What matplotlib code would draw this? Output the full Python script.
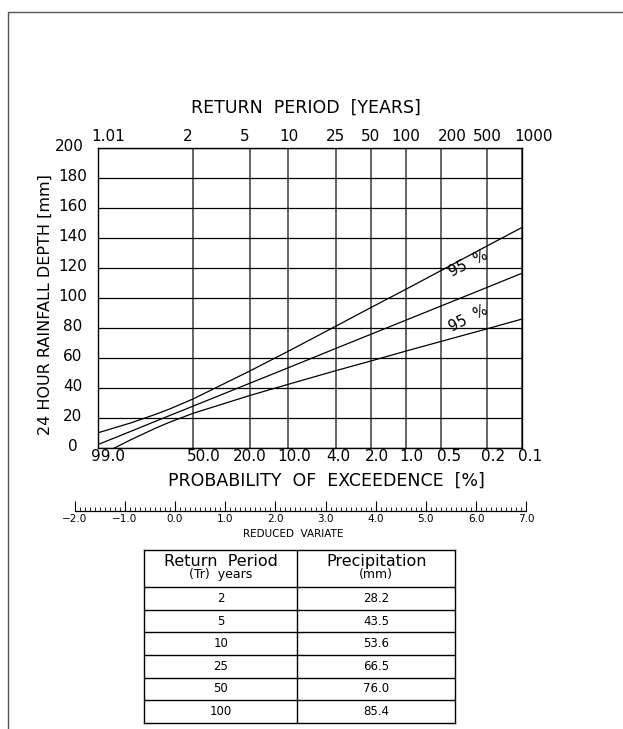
import numpy as np
import matplotlib
matplotlib.use("Agg")
import matplotlib.pyplot as plt
from matplotlib.lines import Line2D
from matplotlib.ticker import MultipleLocator, FuncFormatter
from matplotlib.transforms import blended_transform_factory, ScaledTranslation

# return periods of the grid, with the labels printed along the top and bottom
grid_T = [1.01, 2, 5, 10, 25, 50, 100, 200, 500, 1000]
return_labels = ["1.01", "2", "5", "10", "25", "50", "100", "200", "500", "1000"]
exceed_labels = ["99.0", "50.0", "20.0", "10.0", "4.0", "2.0", "1.0", "0.5", "0.2", "0.1"]
depth_ticks = [0, 20, 40, 60, 80, 100, 120, 140, 160, 180, 200]

# curves (return period -> 24 h depth, mm)
curve_T = [1.01, 1.1, 1.3, 1.5, 2, 5, 10, 25, 50, 100, 200, 500, 1000]
fit_depth = [2.6, 11.4, 18.1, 22.0, 28.2, 43.5, 53.6, 66.5, 76.0, 85.4, 94.8, 107.2, 116.6]
upper_95 = [10.4, 17.0, 22.7, 26.4, 33.0, 51.7, 64.6, 81.3, 93.8, 106.0, 118.4, 134.8, 147.1]
lower_95 = [-5.2, 5.8, 13.5, 17.6, 23.4, 35.3, 42.6, 51.7, 58.2, 64.8, 71.2, 79.6, 86.1]

# table under the chart
table_T = [2, 5, 10, 25, 50, 100]
table_precip = [28.2, 43.5, 53.6, 66.5, 76.0, 85.4]


def gumbel_fwd(T):
    T = np.asarray(T, dtype=float)
    with np.errstate(all="ignore"):
        return -np.log(-np.log(1.0 - 1.0 / T))


def gumbel_inv(y):
    y = np.asarray(y, dtype=float)
    with np.errstate(all="ignore"):
        return 1.0 / (1.0 - np.exp(-np.exp(-y)))


W, H = 623, 729


def px_rect(left, top, right, bottom):
    return [left / W, 1 - bottom / H, (right - left) / W, (bottom - top) / H]


def px_off(dx, dy):
    return ScaledTranslation(dx / 100, dy / 100, fig.dpi_scale_trans)


plt.rcParams["font.family"] = ["DejaVu Sans"]
fig = plt.figure(figsize=(6.23, 7.29), dpi=100)

# drawing frame
fig.add_artist(Line2D([8.3 / W, 8.3 / W, 1.0], [0.0, 1 - 11.7 / H, 1 - 11.7 / H],
                      transform=fig.transFigure, color="#555555", lw=1.0))

ax_left, ax_top, ax_right, ax_bottom = 98.3, 148.3, 521.6, 448.3
ax = fig.add_axes(px_rect(ax_left, ax_top, ax_right, ax_bottom))
ax.set_xscale("function", functions=(gumbel_fwd, gumbel_inv))

for ys in (upper_95, fit_depth, lower_95):
    ax.plot(curve_T, ys, color="black", lw=0.9, solid_capstyle="butt")

ax.set_xlim(grid_T[0], grid_T[-1])
ax.set_ylim(depth_ticks[0], depth_ticks[-1])
ax.set_xticks(grid_T)
ax.set_xticks([], minor=True)
ax.set_yticks(depth_ticks)
ax.tick_params(length=0, labelbottom=False, labelleft=False)
ax.grid(axis="x", color="#3a3a3a", lw=1.1)
ax.grid(axis="y", color="black", lw=0.9)
for sp in ax.spines.values():
    sp.set_linewidth(1.0)

# tick labels as text so each one can sit where the drawing has it
top_dx = [10, -6, -6, 1, 0, 0, 0, 12, 1, 12]
bot_dx = [10, 10, -1, 6, 3, 6, 6, 8, 6, 8]
xt = blended_transform_factory(ax.transData, ax.transAxes)
for T, lab, dx in zip(grid_T, return_labels, top_dx):
    ax.text(T, 1, lab, transform=xt + px_off(dx, 11.6), ha="center", va="center",
            fontsize=11)
for T, lab, dx in zip(grid_T, exceed_labels, bot_dx):
    ax.text(T, 0, lab, transform=xt + px_off(dx, -8.2), ha="center", va="center",
            fontsize=11)

yt = blended_transform_factory(ax.transAxes, ax.transData)
for v in depth_ticks:
    dx = -25.3
    if v == depth_ticks[-1]:
        dx = -29
    ax.text(0, v, str(v), transform=yt + px_off(dx, 1.5), ha="center", va="center",
            fontsize=11)

ax.text(0.4895, 1.1367, "RETURN  PERIOD  [YEARS]", transform=ax.transAxes,
        ha="center", va="center", fontsize=12.5)
ax.text(0.5396, -0.108, "PROBABILITY  OF  EXCEEDENCE  [%]", transform=ax.transAxes,
        ha="center", va="center", fontsize=12.5)
ax.text(-0.1259, 0.4777, "24 HOUR RAINFALL DEPTH [mm]", transform=ax.transAxes,
        ha="center", va="center", rotation=90, fontsize=11.5)

ax.text(344, 122.9, "95  %", rotation=27, ha="center", va="center", fontsize=10.5,
        rotation_mode="anchor")
ax.text(344, 86.7, "95  %", rotation=27, ha="center", va="center", fontsize=10.5,
        rotation_mode="anchor")

# reduced variate ruler, lined up with the chart's x axis
rv_lo, rv_hi = float(gumbel_fwd(grid_T[0])), float(gumbel_fwd(grid_T[-1]))
ppu = (ax_right - ax_left) / (rv_hi - rv_lo)
r_left = ax_left + (-2 - rv_lo) * ppu
r_right = ax_left + (7 - rv_lo) * ppu
ruler = fig.add_axes(px_rect(r_left, 501, r_right, 511))
ruler.set_xlim(-2, 7)
ruler.set_ylim(0, 1)
for side in ("top", "left", "right"):
    ruler.spines[side].set_visible(False)
ruler.spines["bottom"].set_linewidth(0.9)
ruler.set_yticks([])
ruler.patch.set_alpha(0)
ruler.xaxis.set_major_locator(MultipleLocator(1))
ruler.xaxis.set_minor_locator(MultipleLocator(0.1))
ruler.xaxis.set_major_formatter(FuncFormatter(lambda v, p: f"{v:.1f}".replace("-", "\u2212")))
ruler.tick_params(which="major", direction="in", length=7.2, width=0.8, labelsize=7.5, pad=2.5)
ruler.tick_params(which="minor", direction="in", length=3.1, width=0.6)
fig.text(293 / W, 1 - 534 / H, "REDUCED  VARIATE", ha="center", va="center", fontsize=7.5)

# table
t_left, t_top, t_right, t_bottom = 144, 550, 455, 722.7
head_h = 37.3
row_h = (t_bottom - t_top - head_h) / len(table_T)
tab = fig.add_axes(px_rect(t_left, t_top, t_right, t_bottom))
tab.set_xlim(0, t_right - t_left)
tab.set_ylim(t_bottom - t_top, 0)
tab.set_xticks([])
tab.set_yticks([])
for sp in tab.spines.values():
    sp.set_linewidth(1.0)
split = 297.3 - t_left
tab.axvline(split, color="black", lw=1.0)
for i in range(len(table_T)):
    tab.axhline(head_h + i * row_h, color="black", lw=1.0)
c1 = split / 2
c2 = (split + t_right - t_left) / 2
tab.text(c1, 11.7, "Return  Period", ha="center", va="center", fontsize=11.5)
tab.text(c1, 24.8, "(Tr)  years", ha="center", va="center", fontsize=9)
tab.text(c2, 11.7, "Precipitation", ha="center", va="center", fontsize=11.5)
tab.text(c2, 24.8, "(mm)", ha="center", va="center", fontsize=9)
for i, (T, p) in enumerate(zip(table_T, table_precip)):
    yc = head_h + (i + 0.5) * row_h
    tab.text(c1, yc, str(T), ha="center", va="center", fontsize=8.5)
    tab.text(c2, yc, f"{p:.1f}", ha="center", va="center", fontsize=8.5)

fig.savefig("out.png", dpi=100)
